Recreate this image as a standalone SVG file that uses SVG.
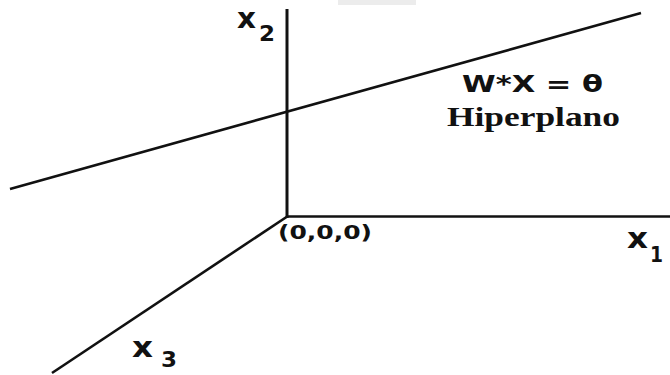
<svg xmlns="http://www.w3.org/2000/svg" width="670" height="375" viewBox="0 0 670 375">
<style>
.ax{stroke:#111;stroke-width:2.6;fill:none;stroke-linecap:butt}
.lbl{font-family:"DejaVu Sans","Liberation Sans",sans-serif;font-weight:bold;fill:#111}
.ser{font-family:"Liberation Serif","DejaVu Serif",serif;font-weight:bold;fill:#111}
</style>
<rect width="670" height="375" fill="#fff"/>
<rect x="338" y="0" width="78" height="5" fill="#ececec"/>
<g id="connectors">
<line class="ax" x1="287" y1="9" x2="287" y2="218" style="stroke-width:3"/>
<line class="ax" x1="286" y1="216.5" x2="670" y2="216.5"/>
<line class="ax" x1="288" y1="216" x2="52" y2="373"/>
<line class="ax" x1="10" y1="189" x2="641" y2="13"/>
</g>
<g id="x2"><text class="lbl" x="237" y="28" font-size="29" textLength="19" lengthAdjust="spacingAndGlyphs">x</text><text class="lbl" x="259" y="41" font-size="21" textLength="16" lengthAdjust="spacingAndGlyphs">2</text></g>
<g id="x1"><text class="lbl" x="627" y="248" font-size="29" textLength="21" lengthAdjust="spacingAndGlyphs">x</text><text class="lbl" x="650" y="262" font-size="21" textLength="13" lengthAdjust="spacingAndGlyphs">1</text></g>
<g id="x3"><text class="lbl" x="132" y="357" font-size="29" textLength="21" lengthAdjust="spacingAndGlyphs">x</text><text class="lbl" x="161" y="367" font-size="21" textLength="16" lengthAdjust="spacingAndGlyphs">3</text></g>
<g id="origin"><text class="lbl" x="278" y="239" font-size="19" textLength="94" lengthAdjust="spacingAndGlyphs">(0,0,0)</text></g>
<g id="eq"><text class="lbl" x="462" y="92" font-size="23" textLength="141" lengthAdjust="spacingAndGlyphs">W*X = θ</text></g>
<g id="hiper"><text class="ser" x="447" y="126" font-size="27" textLength="173" lengthAdjust="spacingAndGlyphs">Hiperplano</text></g>
</svg>
